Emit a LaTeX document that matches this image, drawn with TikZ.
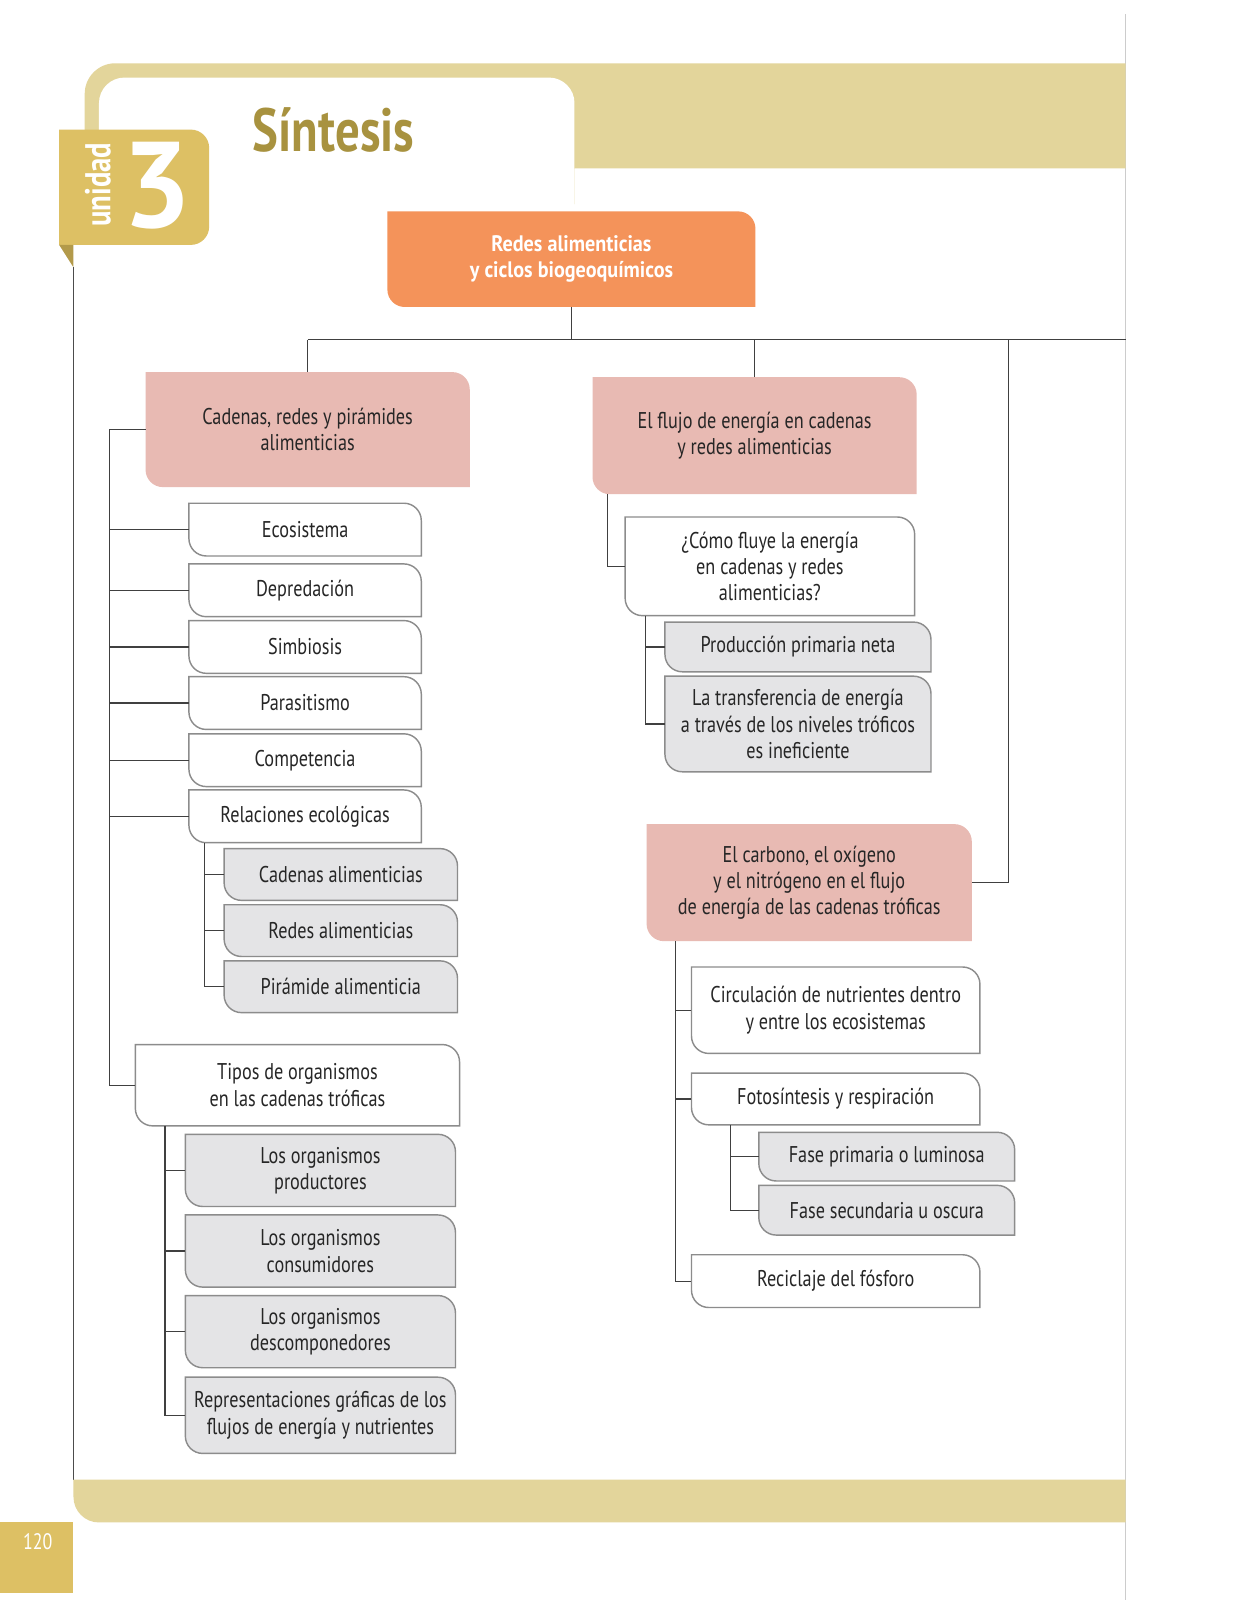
\documentclass[tikz,border=0pt]{standalone}
\usepackage{fontspec}
\setmainfont{PT Sans}[FakeStretch=0.8]
\newfontfamily\topfont{PT Sans}[FakeStretch=0.9]
\newfontfamily\numfont{PT Sans}[FakeStretch=1.0]
\usetikzlibrary{backgrounds}

\definecolor{gold}{HTML}{E3D59B}
\definecolor{tabgold}{HTML}{DDC064}
\definecolor{foldgold}{HTML}{B39A4A}
\definecolor{titgold}{HTML}{A8923F}
\definecolor{orng}{HTML}{F4935A}
\definecolor{pinkbox}{HTML}{E8BAB3}
\definecolor{boxgray}{HTML}{E4E4E6}
\newcommand\rad{0.34cm}

\tikzset{
  lbl/.style={inner sep=0pt, align=center, font=\fontsize{12.7}{14.7}\selectfont, text=black!85},
  toplbl/.style={lbl, font=\topfont\bfseries\fontsize{12.5}{14.7}\selectfont, text=white},
  sz/.style 2 args={minimum width=#1*0.02cm, minimum height=#2*0.02cm},
  conn/.style={draw=black!75, line width=0.7pt},
  obox/.style={fill=orng},
  pbox/.style={fill=pinkbox},
  wbox/.style={fill=white, draw=black!45, line width=0.8pt},
  gbox/.style={fill=boxgray, draw=black!45, line width=0.8pt}
}

\begin{document}
\begin{tikzpicture}[x=0.02cm, y=-0.02cm]
  \useasboundingbox (0,0) rectangle (1211,1568);

  % Page frame
  \begin{scope}[on background layer]
    \fill[white] (0,0) rectangle (1211,1568);
    \draw[black!20, line width=0.8pt] (1103,14) -- (1103,1568);
    \fill[gold] (83,200) -- (83,92) arc[start angle=180, end angle=90, radius=0.6cm] -- (1103,62) -- (1103,165) -- (563,165) -- (563,200) -- cycle;
    \fill[white] (97,300) -- (97,101) arc[start angle=180, end angle=90, radius=0.5cm] -- (538,76) arc[start angle=90, end angle=0, radius=0.5cm] -- (563,300) -- cycle;
    \fill[tabgold] (58,127) -- (187,127) arc[start angle=90, end angle=0, radius=0.36cm] -- (205,222) arc[start angle=0, end angle=-90, radius=0.36cm] -- (58,240) -- cycle;
    \fill[foldgold] (58,240) -- (72,240) -- (72,262) -- cycle;
    \draw[black!70, line width=0.5pt] (72,262) -- (72,1450);
    \fill[gold] (72,1450) -- (1103,1450) -- (1103,1492) -- (97,1492) arc[start angle=270, end angle=180, radius=0.5cm] -- cycle;
    \fill[tabgold] (0,1492) rectangle (72,1561);
  \end{scope}

  \node[inner sep=0pt, text=white, font=\bfseries\fontsize{20}{20}\selectfont, rotate=90] (uni) at (96,181) {unidad};
  \node[inner sep=0pt, text=white, font=\numfont\bfseries\fontsize{68}{68}\selectfont] (num) at (154,182) {3};
  \node[inner sep=0pt, text=titgold, font=\bfseries\fontsize{34}{34}\selectfont] (tit) at (327,127) {Síntesis};
  \node[inner sep=0pt, text=white, font=\fontsize{12.5}{12.5}\selectfont] (pag) at (37,1511) {120};

  % Nodes
  \node[toplbl, sz={360}{93}] (top) at (560,254) {Redes alimenticias\\y ciclos biogeoquímicos};

  \node[lbl, sz={317}{112}] (cad) at (301.5,421) {Cadenas, redes y pirámides\\alimenticias};
  \node[lbl, sz={227}{51}] (eco) at (299,519) {Ecosistema};
  \node[lbl, sz={227}{51}] (dep) at (299,578.5) {Depredación};
  \node[lbl, sz={227}{51}] (sim) at (299,634) {Simbiosis};
  \node[lbl, sz={227}{51}] (par) at (299,689) {Parasitismo};
  \node[lbl, sz={227}{51}] (com) at (299,745) {Competencia};
  \node[lbl, sz={227}{51}] (rel) at (299,800) {Relaciones ecológicas};
  \node[lbl, sz={228}{50}] (cal) at (334,857) {Cadenas alimenticias};
  \node[lbl, sz={228}{50}] (ral) at (334,912) {Redes alimenticias};
  \node[lbl, sz={228}{50}] (pir) at (334,967) {Pirámide alimenticia};
  \node[lbl, sz={317}{79}] (tip) at (291.5,1063.5) {Tipos de organismos\\en las cadenas tróficas};
  \node[lbl, sz={264}{70}] (pro) at (314,1147) {Los organismos\\productores};
  \node[lbl, sz={264}{70}] (con) at (314,1226) {Los organismos\\consumidores};
  \node[lbl, sz={264}{70}] (des) at (314,1305) {Los organismos\\descomponedores};
  \node[lbl, sz={264}{74}] (rep) at (314,1387) {Representaciones gráficas de los\\flujos de energía y nutrientes};

  \node[lbl, sz={317}{114}] (flu) at (739.5,427) {El flujo de energía en cadenas\\y redes alimenticias};
  \node[lbl, sz={283}{96}] (cmo) at (754.5,555) {¿Cómo fluye la energía\\en cadenas y redes\\alimenticias?};
  \node[lbl, sz={260}{48}] (ppn) at (782,634) {Producción primaria neta};
  \node[lbl, sz={260}{93}] (tra) at (782,709.5) {La transferencia de energía\\a través de los niveles tróficos\\es ineficiente};

  \node[lbl, sz={318}{114}] (car) at (793,865) {El carbono, el oxígeno\\y el nitrógeno en el flujo\\de energía de las cadenas tróficas};
  \node[lbl, sz={282}{84}] (cir) at (819,990) {Circulación de nutrientes dentro\\y entre los ecosistemas};
  \node[lbl, sz={282}{50}] (fot) at (819,1077) {Fotosíntesis y respiración};
  \node[lbl, sz={250}{47}] (fpl) at (869,1133.5) {Fase primaria o luminosa};
  \node[lbl, sz={250}{48}] (fso) at (869,1186) {Fase secundaria u oscura};
  \node[lbl, sz={282}{51}] (fos) at (819,1255.5) {Reciclaje del fósforo};

  % Box outlines
  \begin{scope}[on background layer]
    \foreach \n/\s in {top/obox, cad/pbox, flu/pbox, car/pbox,
        eco/wbox, dep/wbox, sim/wbox, par/wbox, com/wbox, rel/wbox, tip/wbox,
        cmo/wbox, cir/wbox, fot/wbox, fos/wbox,
        cal/gbox, ral/gbox, pir/gbox, pro/gbox, con/gbox, des/gbox, rep/gbox,
        ppn/gbox, tra/gbox, fpl/gbox, fso/gbox}
      \path[\s] (\n.north west) -- ([xshift=-\rad]\n.north east)
        arc[start angle=90, end angle=0, radius=\rad] -- (\n.south east)
        -- ([xshift=\rad]\n.south west)
        arc[start angle=270, end angle=180, radius=\rad] -- cycle;
  \end{scope}

  % Edges
  \coordinate (hl) at (cad.north |- 0,333);
  \coordinate (hr) at (1103,333);
  \coordinate (rsp) at (988,333);
  \draw[conn] (top.south) -- (top.south |- hl);
  \draw[conn] (hl) -- (hr);
  \draw[conn] (cad.north) -- (hl);
  \draw[conn] (flu.north) -- (flu.north |- hl);
  \draw[conn] (car.east) -| (rsp);

  \draw[conn] (cad.west) -- ++(-35,0) coordinate (lsp) |- (tip.west);
  \foreach \n in {eco,dep,sim,par,com,rel}
    \draw[conn] (\n.west) -- (\n.west -| lsp);
  \draw[conn] (rel.south west) ++(15,0) coordinate (rsb) |- (pir.west);
  \foreach \n in {cal,ral}
    \draw[conn] (\n.west) -- (\n.west -| rsb);
  \draw[conn] (tip.south west) ++(29,0) coordinate (tsb) |- (rep.west);
  \foreach \n in {pro,con,des}
    \draw[conn] (\n.west) -- (\n.west -| tsb);

  \draw[conn] (flu.south west) ++(15,0) |- (cmo.west);
  \draw[conn] (cmo.south west) ++(20,0) coordinate (csb) |- (tra.west);
  \draw[conn] (ppn.west) -- (ppn.west -| csb);

  \draw[conn] (car.south west) ++(28,0) coordinate (ksb) |- (fos.west);
  \foreach \n in {cir,fot}
    \draw[conn] (\n.west) -- (\n.west -| ksb);
  \draw[conn] (fot.south west) ++(38,0) coordinate (fsb) |- (fso.west);
  \draw[conn] (fpl.west) -- (fpl.west -| fsb);
\end{tikzpicture}
\end{document}
